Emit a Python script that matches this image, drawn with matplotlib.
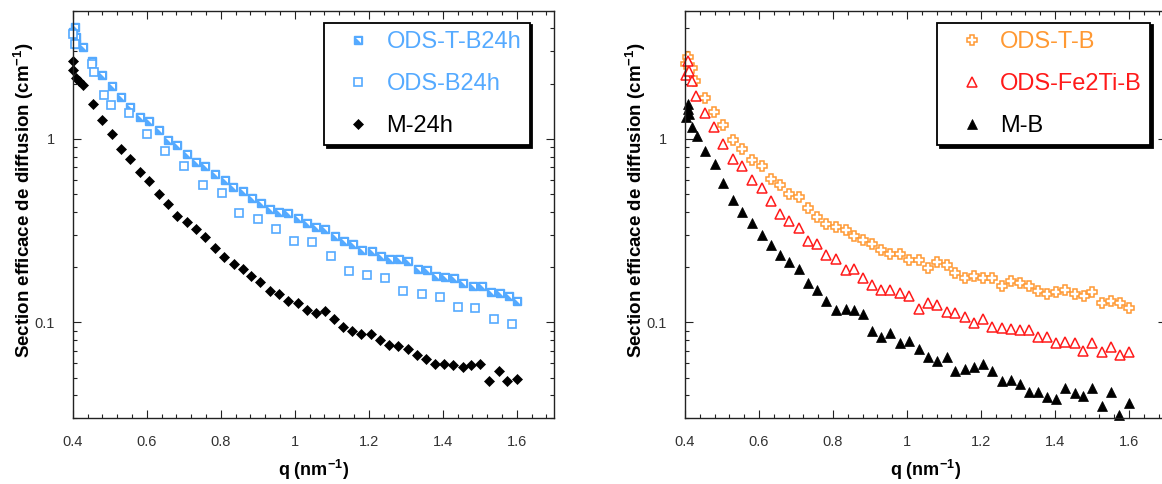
import numpy as np
import matplotlib
matplotlib.use("Agg")
import matplotlib.pyplot as plt
from matplotlib.ticker import MultipleLocator, LogLocator, NullFormatter, FixedLocator, FixedFormatter
from matplotlib.legend_handler import HandlerTuple

plt.rcParams['font.family'] = ['Liberation Sans', 'DejaVu Sans']
plt.rcParams['mathtext.fontset'] = 'custom'
plt.rcParams['mathtext.rm'] = 'Liberation Sans'
plt.rcParams['mathtext.default'] = 'regular'

# ---- left panel data (q in nm-1, intensity in cm-1) ----
q_tb24 = [0.400, 0.406, 0.409, 0.410, 0.429, 0.453, 0.478, 0.505, 0.530, 0.556,
          0.581, 0.606, 0.632, 0.657, 0.682, 0.708, 0.733, 0.757, 0.784, 0.811,
          0.834, 0.860, 0.885, 0.909, 0.933, 0.958, 0.983, 1.008, 1.034, 1.058,
          1.083, 1.108, 1.133, 1.157, 1.183, 1.208, 1.233, 1.257, 1.283, 1.307,
          1.332, 1.357, 1.381, 1.406, 1.431, 1.455, 1.481, 1.506, 1.530, 1.556,
          1.578, 1.602]
i_tb24 = [3.82, 4.10, 3.60, 3.30, 3.19, 2.66, 2.24, 1.94, 1.69, 1.50,
          1.31, 1.26, 1.12, 0.99, 0.93, 0.83, 0.75, 0.71, 0.644, 0.597,
          0.549, 0.523, 0.477, 0.448, 0.415, 0.401, 0.395, 0.371, 0.347, 0.333,
          0.323, 0.294, 0.279, 0.267, 0.248, 0.244, 0.231, 0.223, 0.223, 0.215,
          0.195, 0.193, 0.178, 0.176, 0.175, 0.165, 0.157, 0.157, 0.147, 0.145,
          0.140, 0.131]

q_b24 = [0.400, 0.407, 0.451, 0.458, 0.484, 0.503, 0.551, 0.600, 0.650, 0.700,
         0.752, 0.803, 0.849, 0.900, 0.950, 0.998, 1.048, 1.097, 1.146, 1.196,
         1.245, 1.293, 1.344, 1.392, 1.441, 1.488, 1.538, 1.586]
i_b24 = [3.75, 3.30, 2.56, 2.31, 1.73, 1.54, 1.39, 1.065, 0.86, 0.713,
         0.564, 0.506, 0.395, 0.366, 0.322, 0.277, 0.273, 0.231, 0.191, 0.182,
         0.174, 0.149, 0.142, 0.137, 0.122, 0.120, 0.105, 0.098]

q_m24 = [0.400, 0.402, 0.409, 0.418, 0.427, 0.455, 0.480, 0.505, 0.531, 0.556,
         0.582, 0.607, 0.633, 0.658, 0.682, 0.708, 0.733, 0.757, 0.784, 0.810,
         0.835, 0.860, 0.883, 0.907, 0.933, 0.957, 0.983, 1.008, 1.032, 1.058,
         1.082, 1.107, 1.131, 1.154, 1.179, 1.205, 1.231, 1.256, 1.280, 1.305,
         1.330, 1.354, 1.379, 1.404, 1.429, 1.454, 1.477, 1.501, 1.526, 1.551,
         1.575, 1.600]
i_m24 = [2.37, 2.67, 2.16, 2.08, 1.97, 1.55, 1.27, 1.07, 0.885, 0.78,
         0.66, 0.593, 0.499, 0.444, 0.382, 0.351, 0.323, 0.291, 0.254, 0.226,
         0.208, 0.195, 0.180, 0.167, 0.149, 0.143, 0.130, 0.1275, 0.117, 0.1125,
         0.116, 0.105, 0.094, 0.0895, 0.086, 0.086, 0.0805, 0.075, 0.074, 0.0717,
         0.0668, 0.0628, 0.0592, 0.0592, 0.0584, 0.0568, 0.0584, 0.0592, 0.0478, 0.0544,
         0.0478, 0.0494]

# ---- right panel data ----
q_tb = [0.402, 0.407, 0.419, 0.426, 0.453, 0.479, 0.503, 0.529, 0.555, 0.581,
        0.607, 0.632, 0.656, 0.682, 0.708, 0.732, 0.757, 0.782, 0.808, 0.834,
        0.858, 0.882, 0.906, 0.930, 0.955, 0.982, 1.006, 1.032, 1.057, 1.081,
        1.107, 1.131, 1.156, 1.182, 1.206, 1.230, 1.257, 1.281, 1.305, 1.329,
        1.354, 1.378, 1.404, 1.428, 1.453, 1.479, 1.501, 1.528, 1.552, 1.576,
        1.600]
i_tb = [2.56, 2.80, 2.45, 2.08, 1.68, 1.41, 1.19, 0.988, 0.882, 0.769,
        0.710, 0.606, 0.562, 0.502, 0.482, 0.422, 0.375, 0.345, 0.331, 0.318,
        0.296, 0.283, 0.269, 0.247, 0.235, 0.235, 0.220, 0.218, 0.198, 0.214,
        0.205, 0.185, 0.174, 0.179, 0.174, 0.174, 0.158, 0.168, 0.163, 0.158,
        0.148, 0.142, 0.147, 0.150, 0.143, 0.140, 0.146, 0.127, 0.131, 0.127,
        0.120]

q_fe = [0.402, 0.407, 0.410, 0.419, 0.429, 0.453, 0.479, 0.503, 0.529, 0.555,
        0.581, 0.607, 0.632, 0.656, 0.682, 0.708, 0.732, 0.757, 0.782, 0.808,
        0.834, 0.858, 0.882, 0.906, 0.930, 0.955, 0.982, 1.006, 1.032, 1.057,
        1.081, 1.107, 1.131, 1.156, 1.182, 1.206, 1.230, 1.257, 1.281, 1.305,
        1.329, 1.354, 1.378, 1.404, 1.428, 1.453, 1.476, 1.501, 1.528, 1.552,
        1.576, 1.600]
i_fe = [2.24, 2.67, 2.35, 2.08, 1.72, 1.38, 1.157, 0.939, 0.778, 0.710,
        0.594, 0.540, 0.458, 0.388, 0.357, 0.327, 0.277, 0.269, 0.232, 0.223,
        0.1925, 0.1965, 0.1735, 0.1595, 0.150, 0.151, 0.144, 0.140, 0.119, 0.127,
        0.125, 0.114, 0.112, 0.107, 0.0996, 0.105, 0.094, 0.0927, 0.0916, 0.0908,
        0.0908, 0.0836, 0.0829, 0.0769, 0.0785, 0.0775, 0.0701, 0.0775, 0.0693, 0.0738,
        0.0665, 0.0693]

q_mb = [0.403, 0.408, 0.409, 0.410, 0.418, 0.432, 0.455, 0.480, 0.503, 0.529,
        0.555, 0.581, 0.607, 0.632, 0.656, 0.682, 0.708, 0.732, 0.757, 0.782,
        0.808, 0.834, 0.858, 0.882, 0.906, 0.930, 0.955, 0.982, 1.006, 1.032,
        1.057, 1.081, 1.107, 1.131, 1.156, 1.182, 1.206, 1.230, 1.257, 1.281,
        1.305, 1.329, 1.354, 1.378, 1.404, 1.428, 1.453, 1.476, 1.501, 1.528,
        1.552, 1.573, 1.600]
i_mb = [1.32, 1.456, 1.56, 1.37, 1.156, 1.04, 0.86, 0.728, 0.577, 0.462,
        0.399, 0.348, 0.2985, 0.2655, 0.232, 0.214, 0.1965, 0.163, 0.150, 0.131,
        0.1167, 0.119, 0.1167, 0.111, 0.0897, 0.0836, 0.0871, 0.0775, 0.0795, 0.0714,
        0.0651, 0.0619, 0.0651, 0.0546, 0.0555, 0.0569, 0.0591, 0.0544, 0.048, 0.0486,
        0.046, 0.042, 0.042, 0.0394, 0.0383, 0.0438, 0.0411, 0.0398, 0.0438, 0.0352,
        0.042, 0.0313, 0.0363]

xticks = [0.4, 0.6, 0.8, 1.0, 1.2, 1.4, 1.6]
xticklabels = ['0.4', '0.6', '0.8', '1', '1.2', '1.4', '1.6']
yticks = [0.1, 1]
yticklabels = ['0.1', '1']

blue = '#55aaff'
orange = '#ff9933'
red = '#ff1a1a'

fig = plt.figure(figsize=(11.62, 4.84), dpi=100)
ax1 = fig.add_axes([0.06257, 0.1357, 0.41394, 0.84215])
ax2 = fig.add_axes([0.5895, 0.1357, 0.41394, 0.84215])

# white corner drawn on top of a filled square -> half filled square marker
corner = [(-1, 1), (1, 1), (1, -1)]

h_tb24a, = ax1.plot(q_tb24, i_tb24, ls='none', marker='s', ms=6.2, mfc=blue, mec=blue, mew=1.0, clip_on=False)
h_tb24b, = ax1.plot(q_tb24, i_tb24, ls='none', marker=corner, ms=3.6, mfc='white', mew=0, clip_on=False)
h_b24, = ax1.plot(q_b24, i_b24, ls='none', marker='s', ms=6.2, mfc='white', mec=blue, mew=1.2, clip_on=False)
h_m24, = ax1.plot(q_m24, i_m24, ls='none', marker='D', ms=4.6, mfc='black', mec='black', mew=0.5, clip_on=False)

h_tb, = ax2.plot(q_tb, i_tb, ls='none', marker='P', ms=7, mfc='white', mec=orange, mew=1.1, clip_on=False)
h_fe, = ax2.plot(q_fe, i_fe, ls='none', marker='^', ms=7, mfc='white', mec=red, mew=1.1, clip_on=False)
h_mb, = ax2.plot(q_mb, i_mb, ls='none', marker='^', ms=7, mfc='black', mec='black', mew=0.5, clip_on=False)

for ax in (ax1, ax2):
    ax.set_yscale('log')
    ax.set_xlim(0.4, 1.7)
    ax.set_ylim(0.03, 5)
    ax.xaxis.set_major_locator(FixedLocator(xticks))
    ax.xaxis.set_major_formatter(FixedFormatter(xticklabels))
    ax.xaxis.set_minor_locator(MultipleLocator(0.04))
    ax.yaxis.set_major_locator(FixedLocator(yticks))
    ax.yaxis.set_major_formatter(FixedFormatter(yticklabels))
    ax.yaxis.set_minor_locator(LogLocator(base=10, subs=np.arange(2, 10)))
    ax.yaxis.set_minor_formatter(NullFormatter())
    ax.tick_params(which='both', direction='in', top=True, right=True,
                   width=0.8, color='#222222', labelcolor='#333333', labelsize=10.5)
    ax.tick_params(which='major', length=6)
    ax.tick_params(which='minor', length=3.2)
    ax.tick_params(axis='x', which='major', pad=12)
    ax.tick_params(axis='y', which='major', pad=13)
    for s in ax.spines.values():
        s.set_linewidth(1.0)
        s.set_color('#222222')
    ax.set_xlabel('q (nm$^{-1}$)', fontsize=13, fontweight='bold')
    ax.set_ylabel('Section efficace de diffusion (cm$^{-1}$)', fontsize=13.5, fontweight='bold')
    ax.xaxis.set_label_coords(0.5, -0.097)
    ax.yaxis.set_label_coords(-0.077, 0.534)

leg_kw = dict(loc='upper left', borderaxespad=0, fontsize=17, frameon=True, fancybox=False,
              edgecolor='black', borderpad=0.35, handlelength=2.2, handletextpad=0.1,
              labelspacing=0.85, numpoints=1,
              shadow={'color': 'black', 'alpha': 1})

leg1 = ax1.legend([(h_tb24a, h_tb24b), h_b24, h_m24], ['ODS-T-B24h', 'ODS-B24h', 'M-24h'],
                  bbox_to_anchor=(0.5225, 0.9706), labelcolor=[blue, blue, 'black'],
                  handler_map={tuple: HandlerTuple(ndivide=1)}, **leg_kw)
leg2 = ax2.legend([h_tb, h_fe, h_mb], ['ODS-T-B', 'ODS-Fe2Ti-B', 'M-B'],
                  bbox_to_anchor=(0.5245, 0.9706), labelcolor=[orange, red, 'black'], **leg_kw)
for leg in (leg1, leg2):
    leg.get_frame().set_linewidth(1.3)
    leg.get_frame().set_alpha(1)

fig.savefig('out.png', dpi=100)
